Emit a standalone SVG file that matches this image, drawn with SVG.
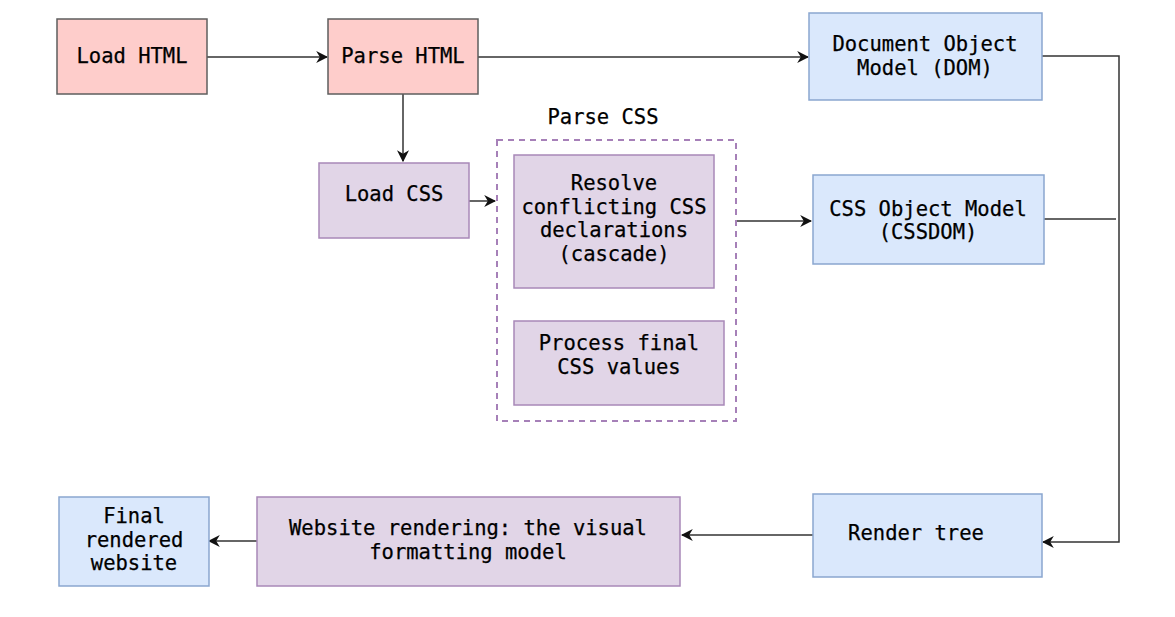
<svg xmlns="http://www.w3.org/2000/svg" width="1175" height="617" viewBox="0 0 1175 617">
<style>
text{font-family:"DejaVu Sans Mono","Liberation Mono",monospace;font-size:20.5px;fill:#000;text-anchor:middle;stroke:#000;stroke-width:0.25}
.red{fill:#fecdcb;stroke:#5e5e5e;stroke-width:1.5}
.pur{fill:#e1d5e7;stroke:#a888b8;stroke-width:1.5}
.blu{fill:#dae8fc;stroke:#8aa6cf;stroke-width:1.5}
.c{fill:none;stroke:#333;stroke-width:1.5}
</style>
<defs>
<marker id="ah" viewBox="0 0 10 10" refX="9" refY="5" markerWidth="12" markerHeight="12" markerUnits="userSpaceOnUse" orient="auto">
<path d="M0,0 L10,5 L0,10 L3,5 Z" fill="#111"/>
</marker>
</defs>
<rect width="1175" height="617" fill="#fff"/>
<g id="connectors">
<path class="c" d="M207,57 H327" marker-end="url(#ah)"/>
<path class="c" d="M478,57 H808" marker-end="url(#ah)"/>
<path class="c" d="M403,94 V161" marker-end="url(#ah)"/>
<path class="c" d="M469,201 H495" marker-end="url(#ah)"/>
<path class="c" d="M736,221 H811" marker-end="url(#ah)"/>
<path class="c" d="M1042,56 H1119 V542 H1043" marker-end="url(#ah)"/>
<path class="c" d="M1044,219 H1116"/>
<path class="c" d="M813,535 H682" marker-end="url(#ah)"/>
<path class="c" d="M257,541 H209" marker-end="url(#ah)"/>
</g>
<g id="load-html">
<rect class="red" x="57" y="19" width="150" height="75"/>
<text x="132" y="63">Load HTML</text>
</g>
<g id="parse-html">
<rect class="red" x="328" y="19" width="150" height="75"/>
<text x="403" y="63">Parse HTML</text>
</g>
<g id="load-css">
<rect class="pur" x="319" y="163" width="150" height="75"/>
<text x="394" y="201">Load CSS</text>
</g>
<g id="parse-css">
<rect x="497" y="140" width="239" height="281" fill="none" stroke="#a680b8" stroke-width="2" stroke-dasharray="6,5"/>
<text x="603" y="124">Parse CSS</text>
</g>
<g id="resolve">
<rect class="pur" x="514" y="155" width="200" height="133"/>
<text x="614" y="190">Resolve</text>
<text x="614" y="214">conflicting CSS</text>
<text x="614" y="237">declarations</text>
<text x="614" y="261">(cascade)</text>
</g>
<g id="process">
<rect class="pur" x="514" y="321" width="210" height="84"/>
<text x="619" y="350">Process final</text>
<text x="619" y="374">CSS values</text>
</g>
<g id="dom">
<rect class="blu" x="809" y="13" width="233" height="87"/>
<text x="925" y="51">Document Object</text>
<text x="925" y="75">Model (DOM)</text>
</g>
<g id="cssdom">
<rect class="blu" x="813" y="175" width="231" height="89"/>
<text x="928" y="216">CSS Object Model</text>
<text x="928" y="239">(CSSDOM)</text>
</g>
<g id="render-tree">
<rect class="blu" x="813" y="494" width="229" height="83"/>
<text x="916" y="540">Render tree</text>
</g>
<g id="website-rendering">
<rect class="pur" x="257" y="497" width="423" height="89"/>
<text x="468" y="535">Website rendering: the visual</text>
<text x="468" y="559">formatting model</text>
</g>
<g id="final">
<rect class="blu" x="59" y="497" width="150" height="89"/>
<text x="134" y="523">Final</text>
<text x="134" y="547">rendered</text>
<text x="134" y="570">website</text>
</g>
</svg>
